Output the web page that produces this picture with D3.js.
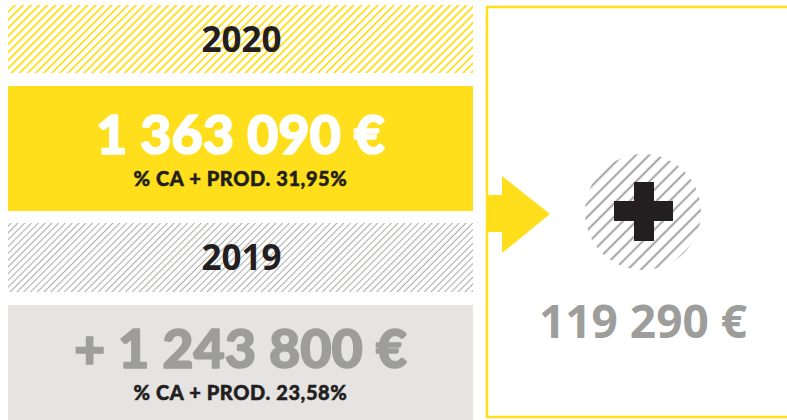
<!DOCTYPE html>
<html>
<head>
<meta charset="utf-8">
<script src="https://cdn.jsdelivr.net/npm/d3@7"></script>
<style>
  body { margin: 0; background: #fff; }
  svg { display: block; }
</style>
</head>
<body>
<svg id="chart" width="787" height="420"></svg>
<script>
// values shown on the infographic
const years = ['2020', '2019'];
const amounts = ['1 363 090 €', '+ 1 243 800 €'];
const ratios = ['% CA + PROD. 31,95%', '% CA + PROD. 23,58%'];
const difference = ['119 290 €'];

const yellow = '#ffdf1b';
const grey = '#9d9d9c';
const dark = '#231f20';

const svg = d3.select('#chart');
const defs = svg.append('defs');

function stripes(id, color, gap, width) {
  const p = defs.append('pattern')
    .attr('id', id)
    .attr('patternUnits', 'userSpaceOnUse')
    .attr('width', gap)
    .attr('height', gap)
    .attr('patternTransform', 'rotate(45)');
  p.append('line')
    .attr('x1', gap / 2).attr('x2', gap / 2)
    .attr('y1', 0).attr('y2', gap)
    .attr('stroke', color)
    .attr('stroke-width', width);
}
stripes('hatch-yellow', yellow, 5.7, 1.8);
stripes('hatch-grey', '#adadac', 4.8, 1.1);
stripes('hatch-circle', '#a9a9a9', 9.4, 2.2);

// left column: year band + value box, one pair per year
const left = { x: 8, w: 465 };
const bands = [
  { y: 5, h: 68, fill: 'url(#hatch-yellow)', base: 52 },
  { y: 223, h: 69, fill: 'url(#hatch-grey)', base: 270 }
];
const boxes = [
  { y: 86, h: 125, fill: yellow, color: '#fff', base: 154, sub: 186 },
  { y: 305, h: 130, fill: '#e5e4e2', color: grey, base: 368, sub: 400 }
];

const cx = left.x + left.w / 2;

years.forEach((year, i) => {
  const b = bands[i];
  svg.append('rect')
    .attr('x', left.x).attr('y', b.y)
    .attr('width', left.w).attr('height', b.h)
    .attr('fill', b.fill);
  svg.append('text')
    .attr('x', cx + 1).attr('y', b.base)
    .attr('text-anchor', 'middle')
    .attr('font-family', 'Open Sans')
    .attr('font-weight', 700)
    .attr('font-size', 35)
    .attr('fill', dark)
    .text(year);

  const bx = boxes[i];
  svg.append('rect')
    .attr('x', left.x).attr('y', bx.y)
    .attr('width', left.w).attr('height', bx.h)
    .attr('fill', bx.fill);
  svg.append('text')
    .attr('x', cx).attr('y', bx.base)
    .attr('text-anchor', 'middle')
    .attr('font-family', 'Lato')
    .attr('font-weight', 900)
    .attr('font-size', 54)
    .attr('fill', bx.color)
    .attr('stroke', bx.color)
    .attr('stroke-width', 1.6)
    .attr('stroke-linejoin', 'round')
    .text(amounts[i]);
  svg.append('text')
    .attr('x', cx).attr('y', bx.sub)
    .attr('text-anchor', 'middle')
    .attr('font-family', 'Lato')
    .attr('font-weight', 900)
    .attr('font-size', 20)
    .attr('letter-spacing', 0.6)
    .attr('fill', dark)
    .attr('stroke', dark)
    .attr('stroke-width', 0.5)
    .text(ratios[i]);
});

// right panel
svg.append('rect')
  .attr('x', 487).attr('y', 7)
  .attr('width', 320).attr('height', 410)
  .attr('fill', 'none')
  .attr('stroke', yellow)
  .attr('stroke-width', 2.5);

// arrow
svg.append('path')
  .attr('d', d3.line()([[486, 195], [502, 195], [502, 176], [550, 214], [502, 253], [502, 232], [486, 232]]) + 'Z')
  .attr('fill', yellow);

// hatched disc with plus sign
const disc = { x: 643, y: 212, r: 58 };
svg.append('circle')
  .attr('cx', disc.x).attr('cy', disc.y).attr('r', disc.r)
  .attr('fill', 'url(#hatch-circle)');
svg.append('rect')
  .attr('x', 634).attr('y', 182).attr('width', 20).attr('height', 59)
  .attr('fill', dark);
svg.append('rect')
  .attr('x', 614).attr('y', 201).attr('width', 59).attr('height', 20)
  .attr('fill', dark);

svg.append('text')
  .attr('x', 643).attr('y', 338)
  .attr('text-anchor', 'middle')
  .attr('font-family', 'Open Sans')
  .attr('font-weight', 700)
  .attr('font-size', 46)
  .attr('fill', grey)
  .text(difference[0]);
</script>
</body>
</html>
